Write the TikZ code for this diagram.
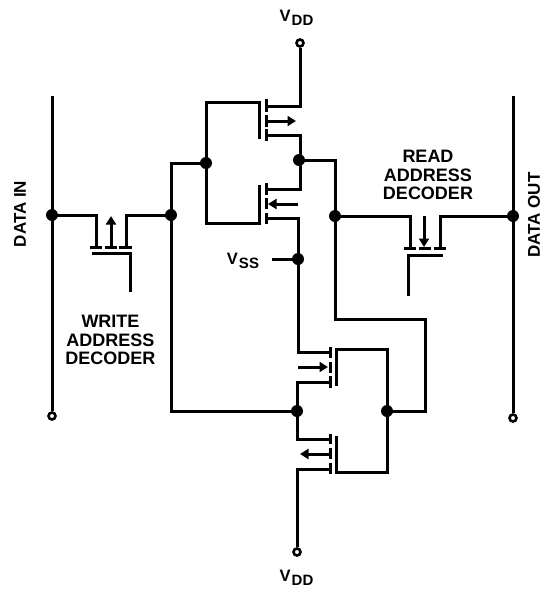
\documentclass[tikz,border=0pt]{standalone}
\usepackage{fontspec}
\setmainfont{Liberation Sans}
\usetikzlibrary{arrows.meta}
\tikzset{
  x=1pt,y=-1pt,
  wire/.style={line width=3pt,line cap=butt,line join=miter},
  bar/.style={line width=3pt},
  flow/.style={line width=3pt,-{Triangle[length=8.5pt,width=10pt]}},
  dotn/.style={circle,fill=black,draw=none,inner sep=0pt,minimum size=12pt},
  term/.style={circle,fill=white,draw=black,line width=2.6pt,inner sep=0pt,minimum size=7pt},
  lab/.style={font=\fontsize{16.5}{18}\selectfont\bfseries,align=center,inner sep=0pt},
  side/.style={font=\fontsize{17}{18}\selectfont\bfseries,inner sep=0pt,rotate=90},
  wide/.style={font=\fontsize{18}{18.6}\selectfont\bfseries,align=center,inner sep=0pt}
}
\newcommand{\subtxt}[1]{\kern1pt\raisebox{-4.5pt}{\fontsize{15}{15}\selectfont #1}}
\begin{document}
\begin{tikzpicture}
\useasboundingbox (0,0) rectangle (546,590);
% junctions and terminals
\node[term] (vddT) at (300,43) {};
\node[term] (vddB) at (297,552) {};
\node[term] (inB) at (52,416) {};
\node[term] (outB) at (513,418) {};
\coordinate (inT) at (52,96);
\coordinate (outT) at (513,96);
\coordinate (vssEnd) at (272,259);
\node[dotn] (jIn) at (52,215) {};
\node[dotn] (jMid) at (171,215) {};
\node[dotn] (jGate) at (206,163) {};
\node[dotn] (jDrain) at (299,160) {};
\node[dotn] (jOutL) at (335,216) {};
\node[dotn] (jOut) at (513,216) {};
\node[dotn] (jVss) at (298,259) {};
\node[dotn] (jLow) at (297,411) {};
\node[dotn] (jFb) at (387,411) {};
% data rails
\draw[wire] (inT) -- (inB.north);
\draw[wire] (outT) -- (outB.north);
% write switch
\draw[wire] (jIn.center) -- (96,215) -- (96,247);
\draw[wire] (jMid.center) -- (126,215) -- (126,247);
\draw[bar] (90,247) -- (102,247) (105,247) -- (117,247) (119,247) -- (132,247);
\draw[wire] (92,253) -- (130,253) -- (130,292);
\draw[flow] (111,247) -- (111,216);
% read switch
\draw[wire] (jOutL.center) -- (410,216) -- (410,248);
\draw[wire] (jOut.center) -- (440,216) -- (440,248);
\draw[bar] (404,248) -- (416,248) (419,248) -- (431,248) (434,248) -- (446,248);
\draw[wire] (443,255) -- (408,255) -- (408,296);
\draw[flow] (424,216) -- (424,247);
% left inverter transistors
\draw[wire] (vddT.south) -- (300,106) -- (266,106);
\draw[bar] (266,99) -- (266,112) (266,115) -- (266,127) (266,129) -- (266,141);
\draw[wire] (259,139) -- (259,102) -- (206,102) -- (206,223) -- (259,223) -- (259,185);
\draw[flow] (266,121) -- (296,121);
\draw[wire] (266,135) -- (300,135) -- (300,189) -- (266,189);
\draw[bar] (266,183) -- (266,195) (266,198) -- (266,209) (266,213) -- (266,224);
\draw[flow] (298,204) -- (268,204);
\draw[wire] (266,218) -- (298,218) -- (298,352) -- (330,352);
\draw[wire] (vssEnd) -- (jVss.center);
% input net
\draw[wire] (jGate.center) -- (171,163) -- (171,411) -- (jLow.center);
% output net
\draw[wire] (jDrain.center) -- (335,160) -- (335,319) -- (425,319) -- (425,411) -- (jFb.center);
% lower transistors
\draw[bar] (330,347) -- (330,358) (330,362) -- (330,373) (330,376) -- (330,388);
\draw[wire] (336,386) -- (336,349) -- (387,349) -- (387,472) -- (336,472) -- (336,436);
\draw[flow] (298,367) -- (328,367);
\draw[wire] (330,382) -- (297,382) -- (297,439) -- (330,439);
\draw[bar] (330,434) -- (330,444) (330,448) -- (330,459) (330,463) -- (330,474);
\draw[flow] (330,454) -- (300,454);
\draw[wire] (330,469) -- (297,469) -- (vddB.north);
% labels
\node[lab] (lVddT) at (296.5,18) {V\subtxt{DD}};
\node[lab] (lVddB) at (296.5,578) {V\subtxt{DD}};
\node[lab] (lVss) at (243,261) {V\subtxt{SS}};
\node[side] (lIn) at (20,214) {DATA IN};
\node[side] (lOut) at (534,215) {DATA OUT};
\node[wide] (lWrite) at (110.5,340) {WRITE\\ADDRESS\\DECODER};
\node[wide] (lRead) at (428,175) {READ\\ADDRESS\\DECODER};
\end{tikzpicture}
\end{document}
